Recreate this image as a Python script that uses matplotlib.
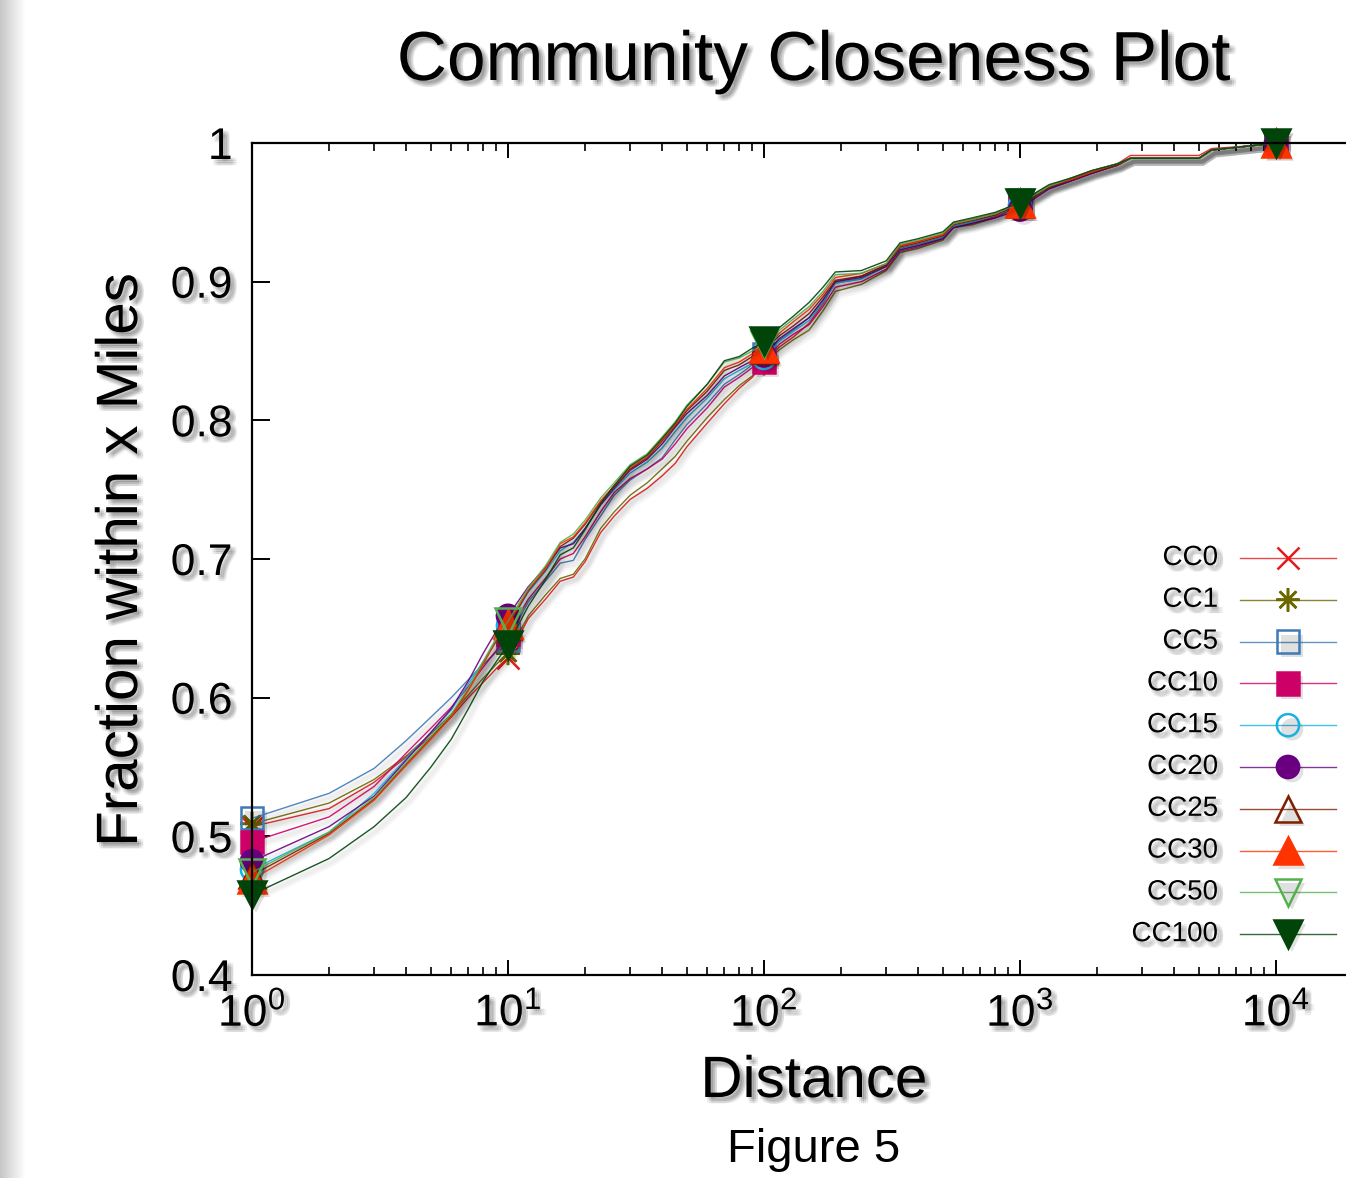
import numpy as np
import matplotlib
matplotlib.use("Agg")
import matplotlib.pyplot as plt
import matplotlib.patheffects as pe
from matplotlib.lines import Line2D

plt.rcParams['font.family'] = ['Liberation Sans', 'DejaVu Sans']
plt.rcParams['mathtext.default'] = 'regular'

# ---- data ----
distance = [1, 2, 3, 4, 5, 6, 7, 8, 9, 10,
            12, 14, 16, 18, 20, 23, 26, 30, 35, 40, 45, 50,
            60, 70, 80, 90, 100,
            115, 130, 150, 170, 190,
            240, 300, 340, 400, 500, 550, 650, 800,
            1000, 1100, 1300, 1600, 1900, 2400, 2700,
            5000, 5600, 8000, 10000]

cc0 = [.507, .520, .539, .557, .572, .586, .600, .611, .621, .629,
       .657, .671, .684, .687, .698, .719, .731, .743, .751, .760, .769, .781,
       .798, .812, .823, .831, .842,
       .853, .860, .870, .884, .900,
       .904, .912, .926, .929, .934, .942, .945, .949,
       .956, .961, .969, .975, .980, .985, .991,
       .991, .996, .998, 1.0]
cc1 = [.509, .524, .541, .558, .574, .588, .602, .614, .624, .632,
       .659, .674, .686, .689, .700, .722, .734, .746, .755, .765, .774, .785,
       .802, .815, .825, .832, .841,
       .851, .858, .865, .879, .893,
       .898, .908, .921, .924, .930, .939, .941, .946,
       .955, .959, .967, .973, .978, .984, .989,
       .989, .995, .998, 1.0]
cc5 = [.513, .531, .549, .569, .586, .600, .613, .624, .633, .642,
       .669, .684, .697, .699, .714, .731, .746, .757, .765, .773, .786, .797,
       .812, .826, .833, .840, .848,
       .858, .865, .874, .886, .899,
       .902, .911, .924, .927, .932, .940, .943, .948,
       .959, .962, .969, .974, .979, .985, .989,
       .989, .995, .998, 1.0]
cc10 = [.496, .514, .536, .560, .578, .593, .608, .622, .634, .646,
        .671, .686, .700, .704, .716, .734, .748, .758, .765, .772, .783, .794,
        .809, .824, .831, .838, .842,
        .855, .862, .869, .882, .896,
        .900, .909, .922, .925, .931, .939, .942, .947,
        .955, .960, .968, .973, .978, .984, .989,
        .989, .995, .998, 1.0]
cc15 = [.476, .503, .531, .556, .575, .591, .610, .626, .641, .652,
        .676, .691, .706, .712, .722, .739, .750, .762, .770, .780, .792, .802,
        .816, .830, .836, .841, .845,
        .857, .864, .872, .885, .899,
        .902, .911, .923, .926, .932, .940, .943, .948,
        .955, .960, .968, .974, .979, .984, .989,
        .989, .995, .998, 1.0]
cc20 = [.482, .507, .529, .555, .575, .592, .612, .632, .648, .659,
        .680, .694, .708, .711, .722, .739, .751, .764, .772, .783, .795, .805,
        .818, .832, .838, .843, .847,
        .859, .866, .874, .887, .900,
        .903, .911, .923, .926, .931, .939, .942, .946,
        .952, .958, .967, .973, .978, .984, .989,
        .989, .995, .998, 1.0]
cc25 = [.472, .502, .527, .552, .571, .587, .606, .625, .641, .652,
        .677, .692, .709, .715, .725, .741, .752, .765, .773, .785, .796, .807,
        .821, .836, .840, .846, .851,
        .861, .868, .877, .889, .901,
        .904, .912, .925, .928, .933, .941, .944, .948,
        .956, .960, .968, .974, .979, .984, .989,
        .989, .995, .998, 1.0]
cc30 = [.469, .501, .526, .551, .570, .586, .605, .624, .642, .653,
        .678, .693, .711, .716, .726, .742, .753, .766, .774, .786, .797, .808,
        .823, .838, .842, .848, .852,
        .863, .871, .880, .891, .903,
        .906, .913, .926, .929, .934, .942, .945, .949,
        .957, .961, .969, .974, .979, .985, .989,
        .989, .995, .998, 1.0]
cc50 = [.474, .503, .528, .553, .572, .588, .607, .626, .643, .655,
        .679, .695, .712, .718, .728, .744, .755, .768, .776, .788, .799, .811,
        .826, .842, .845, .850, .855,
        .865, .873, .882, .893, .905,
        .906, .913, .927, .930, .935, .942, .945, .949,
        .957, .961, .969, .975, .980, .985, .989,
        .989, .995, .998, 1.0]
cc100 = [.458, .484, .507, .528, .550, .570, .592, .612, .626, .638,
         .666, .685, .703, .708, .721, .740, .753, .767, .775, .787, .798, .810,
         .826, .843, .846, .852, .857,
         .867, .875, .885, .896, .907,
         .908, .915, .928, .931, .936, .943, .946, .950,
         .957, .962, .970, .975, .980, .985, .989,
         .989, .995, .998, 1.0]

labels = ['CC0', 'CC1', 'CC5', 'CC10', 'CC15', 'CC20', 'CC25', 'CC30', 'CC50', 'CC100']
series = [cc0, cc1, cc5, cc10, cc15, cc20, cc25, cc30, cc50, cc100]
colors = ['#e41a1c', '#6b6800', '#3d7ab8', '#cc0066', '#18b2e0',
          '#6a0080', '#7f1f00', '#ff3300', '#55b04f', '#00440a']
# marker, filled?
markers = [('x', True), ((8, 2, 0), True), ('s', False), ('s', True), ('o', False),
           ('o', True), ('^', False), ('^', True), ('v', False), ('v', True)]
msizes = [16, 17, 16, 16, 16, 16, 19, 20, 19, 20]
mark_idx = [0, 9, 26, 40, 50]   # points at 1, 10, 100, 1000, 10000


def text_shadow():
    fx = []
    for dx in (1.5, 3, 4.5):
        for dy in (-1.5, -3, -4.5):
            fx.append(pe.SimplePatchShadow(offset=(dx, dy), shadow_rgbFace='k', alpha=0.05))
    fx.append(pe.Normal())
    return fx


line_fx = [pe.SimpleLineShadow(offset=(2.5, -2.5), shadow_color='k', alpha=0.035, linewidth=6),
           pe.SimpleLineShadow(offset=(2.5, -2.5), shadow_color='k', alpha=0.03, linewidth=3),
           pe.Normal()]

W, H = 1346, 1178
fig = plt.figure(figsize=(W / 100, H / 100), dpi=100)
fig.patch.set_facecolor('white')

# page edge shading on the left
edge = fig.add_axes([0, 0, 26 / W, 1])
grad = np.linspace(0.78, 1.0, 26)[None, :]
edge.imshow(grad, aspect='auto', cmap='gray', vmin=0, vmax=1, extent=[0, 1, 0, 1])
edge.axis('off')

# axes: 1 decade = 256 px, left at 252, top at 143, bottom at 975; cut at the right edge
ax = fig.add_axes([252 / W, (H - 975) / H, (W - 252) / W, (975 - 143) / H])
ax.set_xscale('log')
ax.set_xlim(1, 10 ** ((W - 252) / 256))
ax.set_ylim(0.4, 1.0)

for y, lab, c, (m, filled), ms in zip(series, labels, colors, markers, msizes):
    ax.plot(distance, y, color=c, lw=1.0, alpha=0.9, path_effects=line_fx, clip_on=False)
    mx = [distance[i] for i in mark_idx]
    my = [y[i] for i in mark_idx]
    ax.plot(mx, my, ls='none', marker=m, ms=ms, mec=c, mew=1.8,
            mfc=c if filled else 'none', clip_on=False,
            path_effects=[pe.SimplePatchShadow(offset=(3, -3), alpha=0.12), pe.Normal()])

for side in ('left', 'bottom', 'top'):
    ax.spines[side].set_linewidth(1.6)
ax.spines['right'].set_visible(False)

ax.set_yticks([0.4, 0.5, 0.6, 0.7, 0.8, 0.9, 1.0])
ax.set_yticklabels(['0.4', '0.5', '0.6', '0.7', '0.8', '0.9', '1'])
ax.tick_params(axis='y', which='major', direction='in', length=13, width=1.4, pad=14,
               labelsize=32, right=False)
ax.tick_params(axis='x', which='major', direction='in', length=11, width=1.4, pad=12,
               labelsize=32, top=True)
ax.tick_params(axis='x', which='minor', direction='in', length=5.5, width=1.2, top=True)
ax.tick_params(axis='y', which='minor', left=False, right=False)
for t in ax.get_xticklabels() + ax.get_yticklabels():
    t.set_path_effects(text_shadow())

# titles and labels
fig.text(814 / W, 1 - 62 / H, 'Community Closeness Plot', fontsize=50, ha='center', va='center',
         path_effects=text_shadow())
fig.text(122 / W, 1 - 560 / H, 'Fraction within x Miles', fontsize=42, rotation=90,
         ha='center', va='center', path_effects=text_shadow())
fig.text(814 / W, 1 - 1082 / H, 'Distance', fontsize=42, ha='center', va='center',
         path_effects=text_shadow())
fig.text(814 / W, 1 - 1150 / H, 'Figure 5', fontsize=34, ha='center', va='center')

# key, gnuplot style: label right-aligned, then line sample with marker
for i, (lab, c, (m, filled), ms) in enumerate(zip(labels, colors, markers, msizes)):
    yy = 1 - (558 + i * 41.8) / H
    fig.text(1218 / W, yy, lab, fontsize=20, ha='right', va='center',
             path_effects=text_shadow())
    fig.add_artist(Line2D([1240 / W, 1336 / W], [yy, yy], transform=fig.transFigure,
                          color=c, lw=1.0, alpha=0.8))
    fig.add_artist(Line2D([1288 / W], [yy], transform=fig.transFigure, ls='none',
                          marker=m, ms=ms, mec=c, mew=1.8, mfc=c if filled else 'none',
                          path_effects=[pe.SimplePatchShadow(offset=(3, -3), alpha=0.12),
                                        pe.Normal()]))

fig.savefig('out.png', dpi=100)
